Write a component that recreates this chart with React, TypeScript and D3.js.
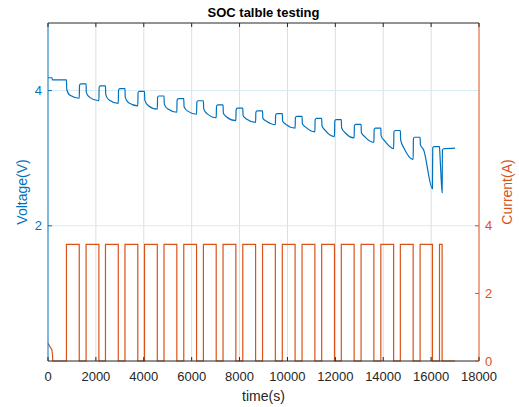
import React from 'react'
import * as d3 from 'd3'

const width = 519
const height = 407
const margin = {top: 23, right: 40, bottom: 46, left: 48}

// pulse on/off times (s)
const pulseOn = [770, 1590, 2400, 3215, 4030, 4845, 5670, 6490, 7310, 8135, 8960, 9785, 10610, 11430, 12250, 13075, 13900, 14715, 15540, 16350]
const pulseOff = [1305, 2125, 2935, 3750, 4565, 5380, 6205, 7025, 7845, 8670, 9495, 10320, 11145, 11965, 12785, 13610, 14435, 15250, 16055, 16460]
const pulseCurrent = 3.45

// voltage right after each step down, ~150s into the pulse, and at pulse end
const vDrop = [4.02, 3.97, 3.94, 3.9, 3.86, 3.8, 3.76, 3.73, 3.67, 3.63, 3.59, 3.55, 3.51, 3.48, 3.45, 3.38, 3.33, 3.27, 3.2, 3.1]
const vKnee = [3.93, 3.9, 3.86, 3.82, 3.78, 3.73, 3.7, 3.66, 3.61, 3.58, 3.55, 3.5, 3.46, 3.41, 3.38, 3.32, 3.26, 3.15, 3.12, 2.8]
const vEnd = [3.887, 3.85, 3.81, 3.775, 3.725, 3.68, 3.65, 3.6, 3.555, 3.53, 3.495, 3.445, 3.39, 3.32, 3.3, 3.235, 3.14, 2.98, 2.55, 2.49]
// rest voltage after each pulse
const vRest = [4.1, 4.07, 4.03, 3.99, 3.92, 3.88, 3.85, 3.79, 3.74, 3.7, 3.66, 3.62, 3.59, 3.57, 3.5, 3.445, 3.41, 3.31, 3.17, 3.14]

// start of the test, before the first pulse
const startT = [0, 165, 185]
const startV = [4.19, 4.19, 4.16]
const startI = [0.52, 0.33, 0.2]
const endT = 17000
const endV = 3.15

const xTicks = [0, 2000, 4000, 6000, 8000, 10000, 12000, 14000, 16000, 18000]
const vTicks = [2, 4]
const iTicks = [0, 2, 4]

const blue = '#0072BD'
const orange = '#D95319'
const axisGray = '#262626'
const font = 'Liberation Sans, Arial, sans-serif'

type P = [number, number]

export default function App() {
  const x = d3.scaleLinear().domain([0, 18000]).range([margin.left, width - margin.right])
  const yV = d3.scaleLinear().domain([0, 5]).range([height - margin.bottom, margin.top])
  const yI = d3.scaleLinear().domain([0, 10]).range([height - margin.bottom, margin.top])

  // voltage trace
  const vPts: P[] = startT.map((t, i) => [t, startV[i]] as P)
  let prevRest = startV[startV.length - 1]
  pulseOn.forEach((on, i) => {
    const off = pulseOff[i]
    vPts.push([on, prevRest])
    vPts.push([on + 12, vDrop[i]])
    vPts.push([Math.min(on + 150, (on + off) / 2), vKnee[i]])
    vPts.push([off, vEnd[i]])
    vPts.push([off + 12, vRest[i] - 0.02])
    vPts.push([off + 60, vRest[i]])
    prevRest = vRest[i]
  })
  vPts.push([endT, endV])

  // current trace
  const iPts: P[] = startT.map((t, i) => [t, startI[i]] as P)
  iPts.push([200, 0])
  pulseOn.forEach((on, i) => {
    iPts.push([on, 0], [on, pulseCurrent], [pulseOff[i], pulseCurrent], [pulseOff[i], 0])
  })
  iPts.push([endT, 0])

  const vLine = d3.line<P>().x(d => x(d[0])).y(d => yV(d[1])).curve(d3.curveMonotoneX)
  const iLine = d3.line<P>().x(d => x(d[0])).y(d => yI(d[1]))

  const x0 = margin.left
  const x1 = width - margin.right
  const y0 = height - margin.bottom
  const y1 = margin.top

  return (
    <svg width={width} height={height} style={{position: 'absolute', left: 0, top: 0, background: '#fff'}}>
      {/* grid */}
      {xTicks.slice(1, -1).map(t => (
        <line key={'gx' + t} x1={x(t)} x2={x(t)} y1={y0} y2={y1} stroke="#dedede" strokeWidth={1} />
      ))}
      {vTicks.map(t => (
        <line key={'gy' + t} x1={x0} x2={x1} y1={yV(t)} y2={yV(t)} stroke="#d9eaf5" strokeWidth={1} />
      ))}

      {/* data */}
      <path d={iLine(iPts) ?? ''} fill="none" stroke={orange} strokeWidth={1.2} />
      <path d={vLine(vPts) ?? ''} fill="none" stroke={blue} strokeWidth={1.2} />

      {/* box */}
      <line x1={x0} x2={x1} y1={y0} y2={y0} stroke={axisGray} />
      <line x1={x0} x2={x1} y1={y1} y2={y1} stroke={axisGray} />
      <line x1={x0} x2={x0} y1={y0} y2={y1} stroke={blue} />
      <line x1={x1} x2={x1} y1={y0} y2={y1} stroke={orange} />

      {/* x ticks */}
      {xTicks.map(t => (
        <g key={'xt' + t}>
          <line x1={x(t)} x2={x(t)} y1={y0} y2={y0 - 4} stroke={axisGray} />
          <line x1={x(t)} x2={x(t)} y1={y1} y2={y1 + 4} stroke={axisGray} />
          <text x={x(t)} y={y0 + 20} textAnchor="middle" fontSize={13} fontFamily={font} fill={axisGray}>{t}</text>
        </g>
      ))}

      {/* left ticks */}
      {vTicks.map(t => (
        <g key={'vt' + t}>
          <line x1={x0} x2={x0 + 4} y1={yV(t)} y2={yV(t)} stroke={blue} />
          <text x={x0 - 6} y={yV(t) + 4.5} textAnchor="end" fontSize={13} fontFamily={font} fill={blue}>{t}</text>
        </g>
      ))}

      {/* right ticks */}
      {iTicks.map(t => (
        <g key={'it' + t}>
          <line x1={x1} x2={x1 - 4} y1={yI(t)} y2={yI(t)} stroke={orange} />
          <text x={x1 + 6} y={yI(t) + 4.5} textAnchor="start" fontSize={13} fontFamily={font} fill={orange}>{t}</text>
        </g>
      ))}

      {/* labels */}
      <text x={(x0 + x1) / 2} y={17} textAnchor="middle" fontSize={13} fontWeight="bold" fontFamily={font} fill="#000">SOC talble testing</text>
      <text x={(x0 + x1) / 2} y={401} textAnchor="middle" fontSize={14} fontFamily={font} fill={axisGray}>time(s)</text>
      <text transform={`translate(27,192) rotate(-90)`} textAnchor="middle" fontSize={14} fontFamily={font} fill={blue}>Voltage(V)</text>
      <text transform={`translate(512,192) rotate(-90)`} textAnchor="middle" fontSize={14} fontFamily={font} fill={orange}>Current(A)</text>
    </svg>
  )
}
